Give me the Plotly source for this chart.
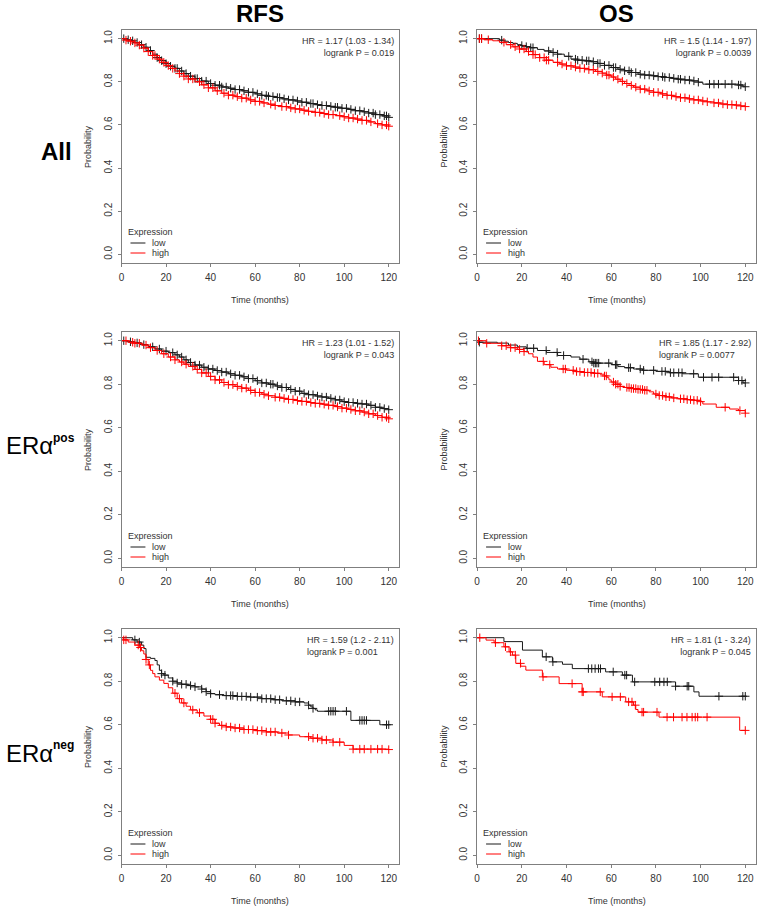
import plotly.graph_objects as go

W, H = 758, 908
FONT = "Liberation Sans, Arial, Helvetica, sans-serif"

# ---------------- data ----------------
col_titles = ["RFS", "OS"]
row_titles = ["All", "ERα", "ERα"]
row_sups = ["", "pos", "neg"]
x_ticks = [0, 20, 40, 60, 80, 100, 120]
y_ticks = [0.0, 0.2, 0.4, 0.6, 0.8, 1.0]
y_tick_text = ["0.0", "0.2", "0.4", "0.6", "0.8", "1.0"]

# RFS - All
rfs_all_low_t = [0, 2, 4, 6, 8, 10, 12, 14, 16, 18, 20, 22, 24, 26, 28, 30, 33, 36, 39, 42, 45, 48, 51, 54, 57, 60, 63, 66, 69, 72, 75, 78, 81, 84, 87, 90, 93, 96, 99, 102, 105, 108, 111, 114, 117, 120]
rfs_all_low_s = [1.0, 0.995, 0.99, 0.982, 0.972, 0.96, 0.945, 0.928, 0.912, 0.898, 0.884, 0.872, 0.862, 0.85, 0.838, 0.826, 0.815, 0.803, 0.792, 0.784, 0.776, 0.77, 0.764, 0.758, 0.751, 0.744, 0.737, 0.732, 0.727, 0.721, 0.716, 0.711, 0.705, 0.699, 0.694, 0.69, 0.686, 0.682, 0.677, 0.672, 0.666, 0.661, 0.655, 0.648, 0.642, 0.635]
rfs_all_low_cens = [1, 3, 5, 7, 9, 11, 13, 16, 18, 20, 22, 24, 25, 27, 29, 31, 33, 34, 36, 38, 40, 42, 44, 45, 47, 49, 51, 53, 55, 57, 59, 61, 63, 65, 66, 68, 70, 71, 73, 75, 77, 79, 81, 83, 85, 86, 88, 90, 92, 94, 96, 97, 99, 101, 103, 105, 107, 109, 111, 113, 114, 116, 118, 119, 120]
rfs_all_high_t = [0, 2, 4, 6, 8, 10, 12, 14, 16, 18, 20, 22, 24, 26, 28, 30, 33, 36, 39, 42, 45, 48, 51, 54, 57, 60, 63, 66, 69, 72, 75, 78, 81, 84, 87, 90, 93, 96, 99, 102, 105, 108, 111, 114, 117, 120]
rfs_all_high_s = [1.0, 0.993, 0.988, 0.98, 0.97, 0.956, 0.94, 0.922, 0.905, 0.89, 0.875, 0.862, 0.85, 0.838, 0.826, 0.813, 0.8, 0.786, 0.772, 0.758, 0.747, 0.738, 0.731, 0.724, 0.716, 0.709, 0.702, 0.696, 0.69, 0.685, 0.679, 0.674, 0.668, 0.663, 0.658, 0.653, 0.648, 0.643, 0.638, 0.632, 0.627, 0.621, 0.614, 0.606, 0.6, 0.594]
rfs_all_high_cens = [2, 4, 6, 8, 10, 12, 14, 15, 17, 19, 21, 23, 26, 28, 30, 32, 35, 37, 39, 41, 43, 46, 48, 50, 52, 54, 56, 58, 60, 62, 64, 67, 69, 72, 74, 76, 78, 80, 82, 84, 87, 89, 91, 93, 95, 98, 100, 102, 104, 106, 108, 110, 112, 115, 117, 119, 120]

# OS - All
os_all_low_t = [0, 10, 12, 14, 16, 18, 20, 22, 24, 27, 30, 33, 36, 39, 42, 45, 48, 51, 54, 57, 60, 63, 66, 69, 72, 75, 78, 81, 84, 87, 90, 93, 96, 99, 101, 117, 119, 120]
os_all_low_s = [1.0, 0.993, 0.988, 0.982, 0.978, 0.972, 0.968, 0.963, 0.958, 0.95, 0.943, 0.936, 0.928, 0.918, 0.905, 0.9, 0.897, 0.893, 0.885, 0.876, 0.866, 0.858, 0.851, 0.843, 0.835, 0.831, 0.828, 0.824, 0.82, 0.816, 0.812, 0.808, 0.804, 0.798, 0.789, 0.785, 0.777, 0.777]
os_all_low_cens = [1, 2, 11, 20, 22, 24, 25, 32, 34, 36, 41, 44, 45, 47, 49, 50, 52, 54, 55, 57, 59, 61, 62, 64, 66, 68, 69, 71, 73, 75, 77, 79, 81, 83, 84, 86, 88, 90, 91, 93, 95, 97, 99, 104, 106, 108, 111, 114, 117, 118, 120]
os_all_high_t = [0, 3, 7, 10, 13, 16, 19, 22, 25, 28, 31, 34, 37, 40, 43, 46, 50, 53, 56, 58, 60, 62, 64, 66, 68, 70, 73, 76, 79, 82, 85, 88, 91, 94, 97, 100, 103, 106, 109, 112, 115, 118, 120]
os_all_high_s = [1.0, 0.995, 0.99, 0.983, 0.972, 0.962, 0.952, 0.94, 0.926, 0.912, 0.9, 0.89, 0.882, 0.874, 0.868, 0.862, 0.856, 0.848, 0.84, 0.831, 0.822, 0.812, 0.802, 0.792, 0.783, 0.775, 0.766, 0.758, 0.751, 0.744, 0.737, 0.731, 0.726, 0.721, 0.716, 0.711, 0.707, 0.702, 0.697, 0.694, 0.692, 0.688, 0.685]
os_all_high_cens = [1, 2, 5, 12, 15, 17, 19, 21, 23, 25, 26, 28, 30, 31, 32, 36, 38, 40, 42, 44, 46, 48, 50, 52, 54, 56, 58, 59, 61, 63, 65, 67, 69, 71, 73, 75, 77, 79, 81, 83, 85, 87, 89, 91, 93, 95, 97, 99, 101, 103, 106, 108, 110, 112, 114, 116, 118, 120]

# RFS - ERa pos
rfs_pos_low_t = [0, 3, 6, 9, 12, 15, 18, 21, 24, 26, 28, 30, 33, 36, 39, 42, 45, 48, 51, 54, 57, 60, 63, 66, 69, 72, 75, 78, 81, 84, 87, 90, 93, 96, 99, 102, 105, 108, 111, 114, 117, 120]
rfs_pos_low_s = [1.0, 0.995, 0.99, 0.982, 0.972, 0.962, 0.952, 0.945, 0.935, 0.925, 0.912, 0.9, 0.888, 0.878, 0.87, 0.863, 0.856, 0.848, 0.841, 0.834, 0.826, 0.816, 0.806, 0.8, 0.792, 0.785, 0.776, 0.768, 0.758, 0.752, 0.746, 0.741, 0.735, 0.728, 0.72, 0.716, 0.712, 0.709, 0.703, 0.694, 0.688, 0.683]
rfs_pos_low_cens = [1, 4, 7, 10, 14, 17, 20, 23, 25, 27, 29, 31, 33, 35, 37, 39, 41, 43, 45, 47, 49, 51, 53, 55, 57, 59, 61, 63, 65, 67, 68, 70, 72, 74, 76, 78, 80, 82, 84, 86, 88, 90, 92, 94, 96, 98, 100, 102, 104, 106, 108, 110, 112, 114, 116, 118, 120]
rfs_pos_high_t = [0, 3, 6, 9, 12, 15, 18, 21, 24, 26, 28, 30, 33, 36, 39, 42, 45, 48, 51, 54, 57, 60, 63, 66, 69, 72, 75, 78, 81, 84, 87, 90, 93, 96, 99, 102, 105, 108, 111, 114, 117, 120]
rfs_pos_high_s = [1.0, 0.993, 0.988, 0.98, 0.968, 0.955, 0.94, 0.925, 0.912, 0.902, 0.892, 0.882, 0.868, 0.852, 0.836, 0.82, 0.808, 0.798, 0.79, 0.782, 0.772, 0.762, 0.754, 0.747, 0.74, 0.735, 0.73, 0.725, 0.721, 0.716, 0.712, 0.708, 0.703, 0.697, 0.69, 0.684, 0.678, 0.672, 0.664, 0.656, 0.648, 0.641]
rfs_pos_high_cens = [2, 5, 6, 8, 11, 13, 16, 19, 22, 24, 27, 29, 32, 34, 36, 38, 40, 42, 44, 46, 48, 50, 52, 54, 56, 58, 60, 62, 64, 66, 69, 71, 73, 75, 77, 79, 81, 83, 85, 87, 89, 91, 93, 95, 97, 99, 101, 103, 105, 107, 109, 111, 113, 115, 117, 119, 120]

# OS - ERa pos
os_pos_low_t = [0, 1, 9, 14, 18, 22, 27, 31, 36, 42, 46, 50, 52, 60, 63, 66, 70, 74, 80, 86, 92, 99, 117, 119, 120]
os_pos_low_s = [1.0, 0.993, 0.989, 0.98, 0.972, 0.965, 0.955, 0.946, 0.932, 0.925, 0.915, 0.903, 0.897, 0.89, 0.881, 0.876, 0.87, 0.864, 0.859, 0.853, 0.848, 0.832, 0.817, 0.806, 0.806]
os_pos_low_cens = [1, 22.4, 25.3, 30.9, 35.8, 38.7, 47.4, 51.4, 52.2, 52.9, 53.6, 54.4, 58.9, 61.9, 62.5, 67.8, 68.6, 73, 74.5, 79, 82.7, 84.2, 86.5, 88, 90.2, 91.7, 96.9, 101.3, 105.1, 108.1, 114.8, 117, 118.5, 120]
os_pos_high_t = [0, 4, 11, 15, 18, 21, 23, 25, 27, 30, 33, 36, 40, 44, 48, 52, 55, 57, 58, 59, 60, 62, 64, 66, 69, 72, 75, 77, 79, 81, 84, 87, 90, 94, 97, 100, 101, 107, 113, 117, 120]
os_pos_high_s = [1.0, 0.988, 0.977, 0.968, 0.96, 0.95, 0.94, 0.925, 0.905, 0.89, 0.878, 0.87, 0.864, 0.858, 0.854, 0.85, 0.846, 0.838, 0.83, 0.82, 0.81, 0.8, 0.79, 0.785, 0.78, 0.776, 0.772, 0.765, 0.755, 0.748, 0.742, 0.737, 0.733, 0.729, 0.726, 0.72, 0.709, 0.694, 0.686, 0.679, 0.667]
os_pos_high_cens = [0.6, 4.3, 11, 13, 15, 17, 19, 21, 29.6, 32.5, 38.5, 39.5, 43, 44.5, 46, 48, 49.5, 51, 52.5, 54, 57, 57.8, 61, 62, 63, 64, 67, 68, 69, 70, 71, 72, 73, 74, 75, 76, 80, 81.5, 83, 84.5, 86, 88, 91, 92.5, 94, 95.5, 97, 98.5, 100, 111, 117.6, 120]

# RFS - ERa neg
rfs_neg_low_t = [0, 5, 7, 9, 10, 11, 13, 15, 16, 17, 18, 19, 21, 23, 25, 27, 30, 33, 36, 38, 40, 42, 46, 52, 58, 63, 68, 72, 78, 82, 84, 85, 86, 87, 88, 103, 116, 120]
rfs_neg_low_s = [1.0, 0.99, 0.98, 0.966, 0.95, 0.91, 0.905, 0.895, 0.875, 0.85, 0.835, 0.828, 0.815, 0.8, 0.792, 0.786, 0.78, 0.774, 0.764, 0.752, 0.743, 0.738, 0.734, 0.73, 0.727, 0.72, 0.715, 0.71, 0.705, 0.7, 0.69, 0.682, 0.675, 0.668, 0.662, 0.62, 0.6, 0.6]
rfs_neg_low_cens = [6, 8, 18, 19.5, 23, 25, 27, 29, 31, 33, 36, 38, 40, 44, 47, 49, 50, 52, 54, 56, 58, 61, 63, 65, 67, 69, 71, 74, 76, 78, 80, 84, 86, 93, 94, 95, 96, 101, 107, 108, 109, 110, 119, 120]
rfs_neg_high_t = [0, 1, 3, 6, 8, 9, 10, 11, 12, 13, 14, 15, 17, 19, 21, 23, 25, 27, 29, 31, 34, 37, 40, 42, 44, 47, 50, 55, 60, 65, 70, 75, 80, 85, 90, 95, 100, 104, 120]
rfs_neg_high_s = [1.0, 0.99, 0.98, 0.966, 0.955, 0.94, 0.925, 0.9, 0.875, 0.85, 0.835, 0.82, 0.805, 0.79, 0.77, 0.745, 0.72, 0.7, 0.685, 0.668, 0.655, 0.64, 0.625, 0.607, 0.597, 0.59, 0.585, 0.578, 0.573, 0.567, 0.562, 0.553, 0.545, 0.538, 0.53, 0.52, 0.505, 0.488, 0.486]
rfs_neg_high_cens = [1, 2, 7.5, 8.5, 11, 12.5, 24, 26, 28, 32, 35, 40, 41, 42, 45, 47, 49, 51, 53, 55, 57, 59, 61, 63, 65, 67, 69, 72, 75, 84, 86, 88, 90, 92, 95, 98, 104, 107, 109, 112, 115, 117, 120]

# OS - ERa neg
os_neg_low_t = [0, 12, 20.3, 29.2, 33.7, 38.2, 42.6, 57.5, 65, 69.5, 88.8, 97, 99.3, 120]
os_neg_low_s = [1.0, 0.982, 0.943, 0.912, 0.889, 0.878, 0.858, 0.843, 0.828, 0.797, 0.777, 0.751, 0.731, 0.731]
os_neg_low_cens = [30.9, 33.9, 49.8, 51.3, 52.8, 54.3, 55.2, 60.9, 66.1, 66.9, 70.5, 79.5, 81.7, 83.6, 85.1, 88.8, 94, 94.7, 108.2, 118.9, 120]
os_neg_high_t = [0, 4, 7.6, 12, 14.3, 15.8, 17.3, 19.5, 21.8, 29.2, 36.7, 47, 56, 66.5, 70, 71, 72, 81.4, 117.5, 120]
os_neg_high_s = [1.0, 0.989, 0.977, 0.958, 0.935, 0.92, 0.882, 0.869, 0.851, 0.82, 0.789, 0.751, 0.728, 0.705, 0.69, 0.67, 0.658, 0.635, 0.574, 0.574]
os_neg_high_cens = [1.2, 8.2, 12.7, 14.9, 17.1, 19.4, 29.5, 42.5, 47, 47.5, 55.1, 60.4, 64.1, 67.8, 69.3, 70.8, 73.8, 74.5, 80.5, 85, 87.9, 91.7, 93.9, 96.2, 97.6, 98.7, 102.9, 120]

hr_texts = [
    "HR = 1.17 (1.03 - 1.34)<br>logrank P = 0.019",
    "HR = 1.5 (1.14 - 1.97)<br>logrank P = 0.0039",
    "HR = 1.23 (1.01 - 1.52)<br>logrank P = 0.043",
    "HR = 1.85 (1.17 - 2.92)<br>logrank P = 0.0077",
    "HR = 1.59 (1.2 - 2.11)<br>logrank P = 0.001",
    "HR = 1.81 (1 - 3.24)<br>logrank P = 0.045",
]
hr_align = ["right", "right", "right", "left", "left", "right"]

# ---------------- build ----------------
curves = [
    (rfs_all_low_t, rfs_all_low_s, rfs_all_low_cens, rfs_all_high_t, rfs_all_high_s, rfs_all_high_cens),
    (os_all_low_t, os_all_low_s, os_all_low_cens, os_all_high_t, os_all_high_s, os_all_high_cens),
    (rfs_pos_low_t, rfs_pos_low_s, rfs_pos_low_cens, rfs_pos_high_t, rfs_pos_high_s, rfs_pos_high_cens),
    (os_pos_low_t, os_pos_low_s, os_pos_low_cens, os_pos_high_t, os_pos_high_s, os_pos_high_cens),
    (rfs_neg_low_t, rfs_neg_low_s, rfs_neg_low_cens, rfs_neg_high_t, rfs_neg_high_s, rfs_neg_high_cens),
    (os_neg_low_t, os_neg_low_s, os_neg_low_cens, os_neg_high_t, os_neg_high_s, os_neg_high_cens),
]

col_px = [(119, 398), (476, 756)]
row_px = [(30, 263), (332, 567), (629, 864)]

LOW_COL = "#1a1a1a"
HIGH_COL = "#ff0000"
BOX_COL = "#7f7f7f"
TXT_COL = "#333333"


def surv_at(ts, ss, t):
    idx = 0
    for i, tt in enumerate(ts):
        if tt <= t:
            idx = i
    return ss[idx]


fig = go.Figure()
layout = dict(
    width=W, height=H, margin=dict(l=0, r=0, t=0, b=0),
    paper_bgcolor="white", plot_bgcolor="white", showlegend=False,
    font=dict(family=FONT, color=TXT_COL),
)
annotations = []
shapes = []

for i, (lt, ls, lc, ht, hs, hc) in enumerate(curves):
    r, c = divmod(i, 2)
    n = "" if i == 0 else str(i + 1)
    xa, ya = "x" + n, "y" + n
    x0, x1 = col_px[c]
    y0, y1 = row_px[r]
    layout["xaxis" + n] = dict(
        domain=[x0 / W, x1 / W], anchor=ya, range=[0, 124.8],
        tickvals=x_ticks, ticks="outside", ticklen=3, tickcolor=BOX_COL,
        showline=True, linecolor=BOX_COL, linewidth=1, mirror=True,
        showgrid=False, zeroline=False, tickfont=dict(size=10, color=TXT_COL),
        ticklabelstandoff=2,
    )
    layout["yaxis" + n] = dict(
        domain=[1 - y1 / H, 1 - y0 / H], anchor=xa, range=[-0.04, 1.04],
        tickvals=y_ticks, ticktext=y_tick_text, tickangle=-90,
        ticks="outside", ticklen=3, tickcolor=BOX_COL,
        showline=True, linecolor=BOX_COL, linewidth=1, mirror=True,
        showgrid=False, zeroline=False, tickfont=dict(size=10, color=TXT_COL),
        ticklabelstandoff=2,
    )
    for t, s, cens, col in ((lt, ls, lc, LOW_COL), (ht, hs, hc, HIGH_COL)):
        fig.add_trace(go.Scatter(
            x=t, y=s, mode="lines", line=dict(shape="hv", width=1, color=col),
            xaxis=xa, yaxis=ya, hoverinfo="skip"))
        fig.add_trace(go.Scatter(
            x=cens, y=[surv_at(t, s, v) for v in cens], mode="markers",
            marker=dict(symbol="cross-thin", size=6, line=dict(width=1, color=col), color=col),
            xaxis=xa, yaxis=ya, hoverinfo="skip"))

    dx = xa + " domain"
    dy = ya + " domain"
    # HR text
    annotations.append(dict(
        text=hr_texts[i], xref=dx, yref=dy, x=1, y=1, xanchor="right", yanchor="top",
        xshift=-3, yshift=-4, align=hr_align[i], showarrow=False,
        font=dict(size=9, color=TXT_COL, family=FONT)))
    # axis titles
    annotations.append(dict(
        text="Probability", xref=dx, yref=dy, x=0, y=0.5, xshift=-34, textangle=-90,
        xanchor="center", yanchor="middle", showarrow=False,
        font=dict(size=9, color=TXT_COL, family=FONT)))
    annotations.append(dict(
        text="Time (months)", xref=dx, yref=dy, x=0.5, y=0, yshift=-37,
        xanchor="center", yanchor="middle", showarrow=False,
        font=dict(size=9, color=TXT_COL, family=FONT)))
    # legend
    bw = x1 - x0
    bh = y1 - y0
    annotations.append(dict(
        text="Expression", xref=dx, yref=dy, x=4 / bw, y=31 / bh, xanchor="left", yanchor="middle",
        showarrow=False, font=dict(size=9, color=TXT_COL, family=FONT)))
    for lab, col, yy in (("low", LOW_COL, 20), ("high", HIGH_COL, 10)):
        shapes.append(dict(type="line", xref=dx, yref=dy, x0=9 / bw, x1=24 / bw,
                           y0=yy / bh, y1=yy / bh, line=dict(color=col, width=1)))
        annotations.append(dict(
            text=lab, xref=dx, yref=dy, x=29 / bw, y=yy / bh, xanchor="left", yanchor="middle",
            showarrow=False, font=dict(size=9, color=TXT_COL, family=FONT)))

# column titles
for c, title in enumerate(col_titles):
    cx = (col_px[c][0] + col_px[c][1]) / 2
    annotations.append(dict(
        text="<b>" + title + "</b>", xref="paper", yref="paper", x=cx / W, y=1 - 13 / H,
        xanchor="center", yanchor="middle", showarrow=False,
        font=dict(size=24, color="#000000", family=FONT)))

# row titles
row_cy = [152, 446, 753]
for r in range(3):
    if row_sups[r] == "":
        annotations.append(dict(
            text="<b>" + row_titles[r] + "</b>", xref="paper", yref="paper", x=54 / W, y=1 - row_cy[r] / H,
            xanchor="center", yanchor="middle", showarrow=False,
            font=dict(size=24, color="#000000", family=FONT)))
    else:
        annotations.append(dict(
            text=row_titles[r], xref="paper", yref="paper", x=1 / W, y=1 - row_cy[r] / H,
            xanchor="left", yanchor="middle", showarrow=False,
            font=dict(size=24, color="#000000", family=FONT)))
        annotations.append(dict(
            text="<b>" + row_sups[r] + "</b>", xref="paper", yref="paper", x=48 / W, y=1 - (row_cy[r] - 8) / H,
            xanchor="left", yanchor="middle", showarrow=False,
            font=dict(size=12, color="#000000", family=FONT)))

layout["annotations"] = annotations
layout["shapes"] = shapes
fig.update_layout(**layout)
fig.write_html("out.html", config={"displayModeBar": False},
               post_script="document.body.style.margin='0px';document.body.style.overflow='hidden';")
